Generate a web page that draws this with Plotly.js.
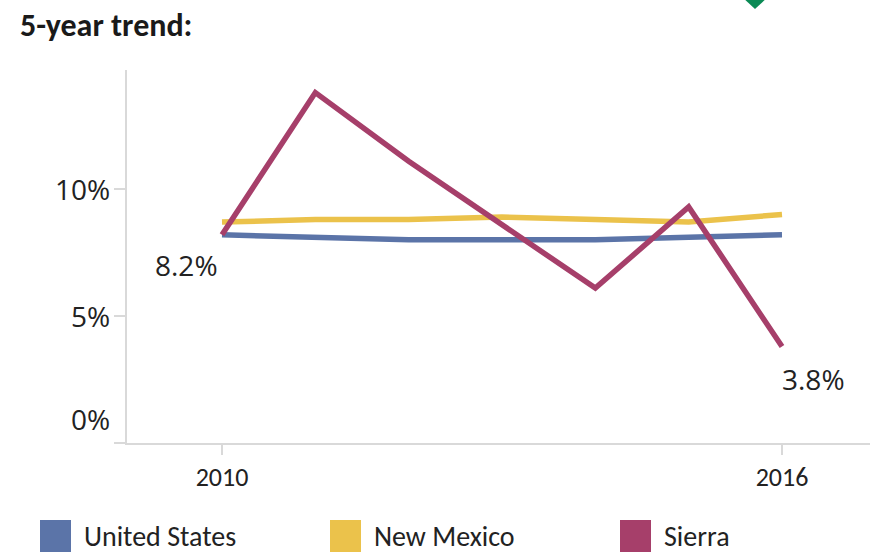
<!DOCTYPE html>
<html>
<head>
<meta charset="utf-8">
<script src="https://cdn.plot.ly/plotly-3.0.1.min.js"></script>
<style>
  html, body { margin: 0; padding: 0; background: #ffffff; }
  #chart { width: 874px; height: 554px; }
</style>
</head>
<body>
<div id="chart"></div>
<script>
// ---- data ----
const years = [2010, 2011, 2012, 2013, 2014, 2015, 2016];
const unitedStates = [8.2, 8.1, 8.0, 8.0, 8.0, 8.1, 8.2];
const newMexico = [8.7, 8.8, 8.8, 8.9, 8.8, 8.7, 9.0];
const sierra = [8.2, 13.8, 11.1, 8.6, 6.1, 9.3, 3.8];
const seriesNames = ["United States", "New Mexico", "Sierra"];
const xTickVals = [2010, 2016];
const xTickText = ["2010", "2016"];
const yTickVals = [0, 5, 10];
const yTickText = ["0%", "5%", "10%"];
const titleText = "5-year trend:";

// ---- styles ----
const colors = ["#5b74a8", "#ebc24b", "#a63f6a"];
const condensed = "Carlito, 'Liberation Sans Narrow', 'DejaVu Sans Condensed', Lato, sans-serif";
const wide = "'Open Sans', 'Noto Sans', sans-serif";
const axisGrey = "#d9d9d9";
const textColor = "#222222";

const W = 874, H = 554;
const M = { l: 127, r: 4, t: 70, b: 111 };
const PW = W - M.l - M.r, PH = H - M.t - M.b;
const px2x = p => (p - M.l) / PW;
const px2y = p => (H - M.b - p) / PH;

const seriesVals = [unitedStates, newMexico, sierra];
const traces = seriesVals.map((v, i) => ({
  type: "scatter", mode: "lines", x: years, y: v, name: seriesNames[i],
  line: { color: colors[i], width: 5.5 }, showlegend: false, hoverinfo: "skip"
}));

const annotations = [];
// y tick labels
yTickVals.forEach((v, i) => {
  annotations.push({
    xref: "paper", yref: "y", x: 0, y: v, xanchor: "right", yanchor: "middle",
    xshift: -15, yshift: v === 0 ? 24 : 0, showarrow: false,
    text: yTickText[i], font: { family: wide, size: 28, color: textColor }
  });
});
// endpoint labels
const last = years.length - 1;
annotations.push({
  xref: "x", yref: "y", x: years[0], y: sierra[0], showarrow: false,
  xanchor: "center", yanchor: "middle", xshift: -36, yshift: -30,
  text: sierra[0].toFixed(1) + "%", font: { family: wide, size: 28, color: textColor }
});
annotations.push({
  xref: "x", yref: "y", x: years[last], y: sierra[last], showarrow: false,
  xanchor: "center", yanchor: "middle", xshift: 31, yshift: -32,
  text: sierra[last].toFixed(1) + "%", font: { family: wide, size: 28, color: textColor }
});

// custom legend (squares + labels)
const shapes = [];
const legendSquareLeft = [40, 330, 620];
legendSquareLeft.forEach((lx, i) => {
  shapes.push({
    type: "rect", xref: "paper", yref: "paper",
    x0: px2x(lx), x1: px2x(lx + 31), y0: px2y(552), y1: px2y(520),
    fillcolor: colors[i], line: { width: 0 }
  });
  annotations.push({
    xref: "paper", yref: "paper", x: px2x(lx + 42), y: px2y(536),
    xanchor: "left", yanchor: "middle", showarrow: false,
    text: seriesNames[i], font: { family: condensed, size: 28, color: textColor }
  });
});
// decorative green marker at top (cropped arrow)
shapes.push({
  type: "path", xref: "paper", yref: "paper",
  path: `M ${px2x(741)} ${px2y(-4)} L ${px2x(769)} ${px2y(-4)} L ${px2x(755)} ${px2y(9)} Z`,
  fillcolor: "#0b8a55", line: { width: 0 }
});

const layout = {
  width: W, height: H,
  margin: M,
  paper_bgcolor: "#ffffff", plot_bgcolor: "#ffffff",
  showlegend: false,
  title: {
    text: "<b>" + titleText + "</b>", xref: "container", yref: "container",
    x: 20 / W, xanchor: "left", y: 1 - 25 / H, yanchor: "middle",
    font: { family: condensed, size: 32, color: "#1a1a1a" }
  },
  xaxis: {
    range: [2010 - 95 / 93.33, 2016 + 88 / 93.33],
    tickvals: xTickVals, ticktext: xTickText,
    showline: true, linecolor: axisGrey, linewidth: 2,
    ticks: "outside", ticklen: 10, tickwidth: 2, tickcolor: axisGrey,
    showgrid: false, zeroline: false,
    tickfont: { family: condensed, size: 26, color: textColor },
    fixedrange: true
  },
  yaxis: {
    range: [0, 14.69],
    tickvals: yTickVals, showticklabels: false,
    showline: true, linecolor: axisGrey, linewidth: 2,
    ticks: "outside", ticklen: 11, tickwidth: 2, tickcolor: axisGrey,
    showgrid: false, zeroline: false, fixedrange: true
  },
  annotations: annotations,
  shapes: shapes
};

Plotly.newPlot("chart", traces, layout, { displayModeBar: false, staticPlot: true });
</script>
</body>
</html>
